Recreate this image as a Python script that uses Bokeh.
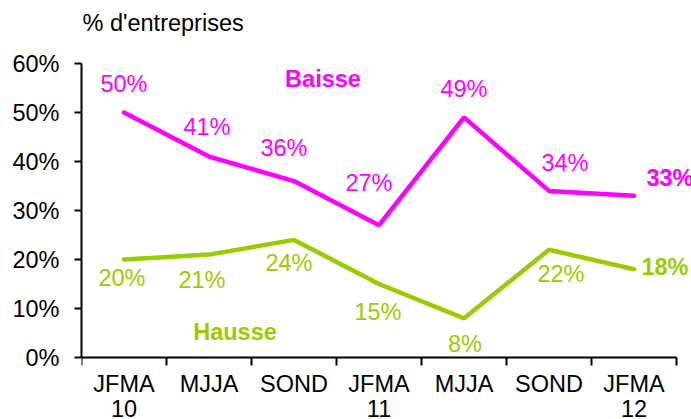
import math
from bokeh.plotting import figure
from bokeh.models import ColumnDataSource, FixedTicker, PrintfTickFormatter, Range1d
from bokeh.core.properties import value
from bokeh.embed import file_html
from bokeh.resources import INLINE

# ---- data ----
periods = ["JFMA", "MJJA", "SOND", "JFMA", "MJJA", "SOND", "JFMA"]
years = ["10", "", "", "11", "", "", "12"]
baisse = [50, 41, 36, 27, 49, 34, 33]
hausse = [20, 21, 24, 15, 8, 22, 18]
y_ticks = [0, 10, 20, 30, 40, 50, 60]
title_text = "% d'entreprises"
series_names = ["Baisse", "Hausse"]

# ---- styling / layout ----
MAGENTA = "#FF00FF"
GREEN = "#99CC00"
FONT = "Liberation Sans"
FS = "23.5px"
W, H = 691, 419
LEFT = 81          # frame left (px)
TOP_PX = 63        # y=60 position (px from top)
BOT_PX = 357       # y=0 position (px from top)
CAT_W = 85.0       # px per category

n = len(periods)
xs = list(range(n))
ymax = y_ticks[-1]
ppu = (BOT_PX - TOP_PX) / ymax            # px per y unit
y_lo = -(H - BOT_PX) / ppu
y_hi = ymax + TOP_PX / ppu
x_hi = (W - LEFT) / CAT_W - 0.5

p = figure(width=W, height=H, output_backend="svg", toolbar_location=None,
           x_range=Range1d(-0.5, x_hi), y_range=Range1d(y_lo, y_hi),
           min_border_left=LEFT, min_border_right=0, min_border_top=0, min_border_bottom=0)
p.outline_line_color = None
p.xgrid.visible = False
p.ygrid.visible = False
p.xaxis.visible = False
p.background_fill_color = "white"
p.border_fill_color = "white"

# y axis
ya = p.yaxis[0]
ya.ticker = FixedTicker(ticks=y_ticks, minor_ticks=[])
ya.formatter = PrintfTickFormatter(format="%d%%")
ya.bounds = (0, ymax)
ya.axis_line_width = 2
ya.major_tick_line_width = 2
ya.major_tick_out = 7
ya.major_tick_in = 0
ya.minor_tick_line_color = None
ya.major_label_standoff = 15
ya.major_label_text_font = FONT
ya.major_label_text_font_size = FS
ya.major_label_text_color = "black"

# x axis drawn by hand at y = 0
bounds = [i - 0.5 for i in range(n + 1)]
p.segment(x0=[bounds[0]], y0=[0], x1=[bounds[-1]], y1=[0], line_color="black", line_width=2)
p.ray(x=bounds, y=[0] * len(bounds), length=8, length_units="screen",
      angle=-math.pi / 2, line_color="black", line_width=2)
p.text(x=xs, y=[0] * n, text=periods, y_offset=26, text_color="black",
       text_font=value(FONT), text_font_size=FS, text_align="center", text_baseline="middle")
p.text(x=xs, y=[0] * n, text=years, y_offset=51, text_color="black",
       text_font=value(FONT), text_font_size=FS, text_align="center", text_baseline="middle")

# title
p.text(x=[-0.5], y=[ymax], text=[title_text], x_offset=1, y_offset=-41, text_color="black",
       text_font=value(FONT), text_font_size=FS, text_align="left", text_baseline="middle")

# lines
p.line(xs, baisse, line_color=MAGENTA, line_width=4.5, line_cap="round")
p.line(xs, hausse, line_color=GREEN, line_width=4.5, line_cap="round")

# data labels (offsets in screen px)
b_dx = [0, -2, -10, -10, 0, 16, 36]
b_dy = [-29, -30, -33, -42, -28, -28, -18]
h_dx = [-2, -7, -5, -1, 1, 12, 31]
h_dy = [18, 25, 23, 28, 26, 24, -2]
last = n - 1

def add_labels(vals, dx, dy, color):
    src = ColumnDataSource(dict(x=xs, y=vals, t=[f"{v}%" for v in vals],
                                dx=dx, dy=dy,
                                st=["bold" if i == last else "normal" for i in xs]))
    p.text(x="x", y="y", text="t", x_offset="dx", y_offset="dy", source=src,
           text_color=color, text_font=value(FONT), text_font_size=FS,
           text_font_style="st", text_align="center", text_baseline="middle")

add_labels(baisse, b_dx, b_dy, MAGENTA)
add_labels(hausse, h_dx, h_dy, GREEN)

# series names, anchored to data points
p.text(x=[xs[2]], y=[baisse[2]], text=[series_names[0]], x_offset=29, y_offset=-102,
       text_color=MAGENTA, text_font=value(FONT), text_font_size=FS,
       text_font_style="bold", text_align="center", text_baseline="middle")
p.text(x=[xs[1]], y=[hausse[1]], text=[series_names[1]], x_offset=26, y_offset=77,
       text_color=GREEN, text_font=value(FONT), text_font_size=FS,
       text_font_style="bold", text_align="center", text_baseline="middle")

open("out.html", "w").write(file_html(p, INLINE))
